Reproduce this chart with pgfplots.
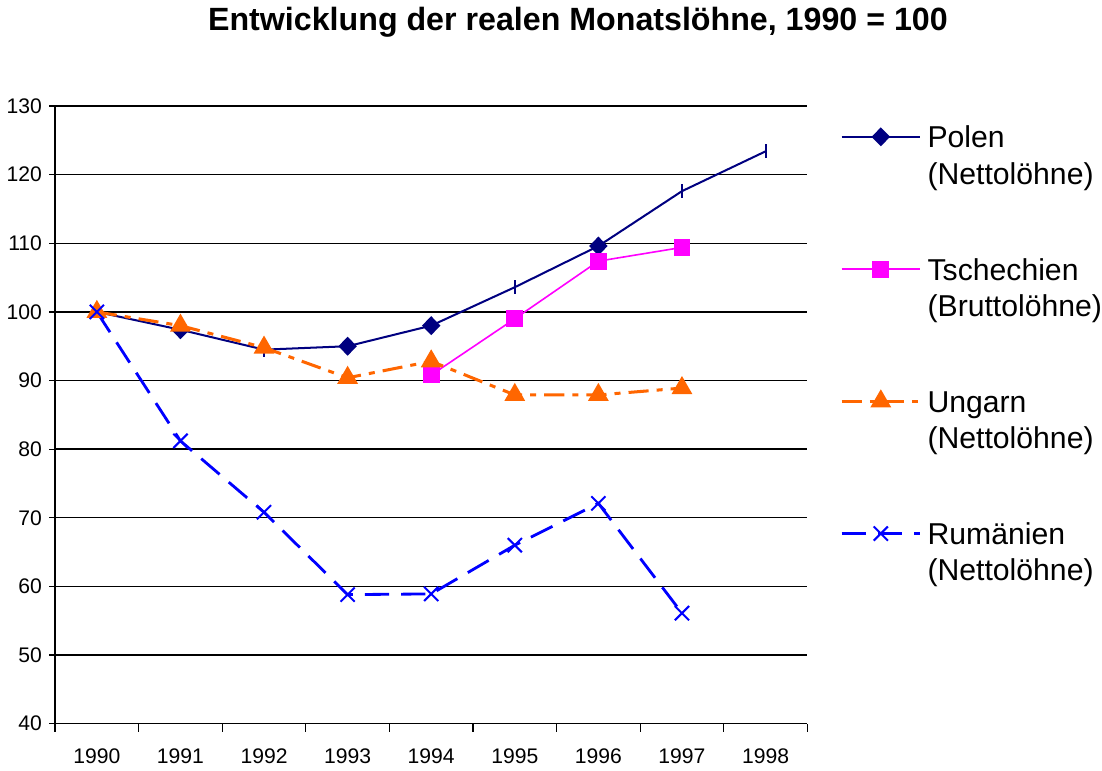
\documentclass[border=0pt]{standalone}
\usepackage{fontspec}
\setmainfont{Liberation Sans}
\usepackage{pgfplots}
\pgfplotsset{compat=1.18}
\definecolor{polen}{RGB}{0,0,128}
\definecolor{tsch}{RGB}{255,0,255}
\definecolor{ungarn}{RGB}{255,102,0}
\definecolor{rum}{RGB}{0,0,255}
\begin{document}
\begin{tikzpicture}
\begin{axis}[
  scale only axis,
  width=374pt, height=307pt,
  xmin=1989.5, xmax=1998.5, ymin=40, ymax=130,
  axis lines*=left,
  axis line style={black, line width=0.7pt},
  xtick={1990,1991,1992,1993,1994,1995,1996,1997,1998},
  xticklabels={1990,1991,1992,1993,1994,1995,1996,1997,1998},
  minor xtick={1989.5,1990.5,1991.5,1992.5,1993.5,1994.5,1995.5,1996.5,1997.5,1998.5},
  major x tick style={draw=none},
  minor tick length=4pt,
  major tick length=3pt,
  ytick={40,50,60,70,80,90,100,110,120,130},
  tick align=outside,
  every tick/.style={black, line width=0.6pt},
  ymajorgrids,
  major grid style={black, line width=0.7pt},
  tick label style={font=\fontsize{10.5}{12}\selectfont},
  /pgf/number format/assume math mode=true,
  xticklabel style={yshift=-6pt},
  title={Entwicklung der realen Monatslöhne, 1990 = 100},
  title style={at={(0.695,1.117)}, anchor=center, yshift=0pt, font=\bfseries\fontsize{16}{18}\selectfont},
  legend style={draw=none, fill=none, at={(1.043,0.974)}, anchor=north west,
    font=\fontsize{15}{18}\selectfont, row sep=29.75pt, column sep=3pt,
    inner sep=0pt, nodes={inner sep=0pt, text depth=}},
  legend cell align=left,
  legend style={cells={anchor=base west}},
  legend image code/.code={\draw[mark repeat=2,mark phase=2,#1] plot coordinates {(0pt,5.5pt) (19.5pt,5.5pt) (39pt,5.5pt)};},
]
% Polen
\addplot[polen, line width=1pt, mark=diamond*, mark size=4pt, mark options={xscale=1.3}, mark indices={2,4,5,7}]
  coordinates {(1990,100) (1991,97.4) (1992,94.5) (1993,95.0) (1994,98.0) (1995,103.6) (1996,109.6) (1997,117.6) (1998,123.4)};
\addlegendentry{\begin{tabular}[t]{@{}l@{}}Polen\\(Nettolöhne)\end{tabular}}
\addplot[polen, line width=1pt, only marks, mark=|, mark size=3.5pt, mark indices={3,6,8,9}, forget plot]
  coordinates {(1990,100) (1991,97.4) (1992,94.5) (1993,95.0) (1994,98.0) (1995,103.6) (1996,109.6) (1997,117.6) (1998,123.4)};
% Tschechien
\addplot[tsch, line width=0.8pt, mark=square*, mark size=3.8pt]
  coordinates {(1994,90.8) (1995,99.0) (1996,107.4) (1997,109.4)};
\addlegendentry{\begin{tabular}[t]{@{}l@{}}Tschechien\\(Bruttolöhne)\end{tabular}}
% Ungarn
\addplot[ungarn, line width=1.5pt, dash pattern=on 10pt off 4pt on 3pt off 4pt,
  mark=triangle*, mark size=4.5pt, mark options={solid, fill=ungarn}]
  coordinates {(1990,100) (1991,98.0) (1992,94.8) (1993,90.4) (1994,92.8) (1995,87.9) (1996,87.9) (1997,88.9)};
\addlegendentry{\begin{tabular}[t]{@{}l@{}}Ungarn\\(Nettolöhne)\end{tabular}}
% Rumaenien
\addplot[rum, line width=1.4pt, dash pattern=on 12pt off 6pt,
  mark=x, mark size=5pt, mark options={solid, line width=1pt}]
  coordinates {(1990,100) (1991,81.2) (1992,70.8) (1993,58.8) (1994,58.9) (1995,66.0) (1996,72.1) (1997,56.1)};
\addlegendentry{\begin{tabular}[t]{@{}l@{}}Rumänien\\(Nettolöhne)\end{tabular}}
\end{axis}
\end{tikzpicture}
\end{document}
